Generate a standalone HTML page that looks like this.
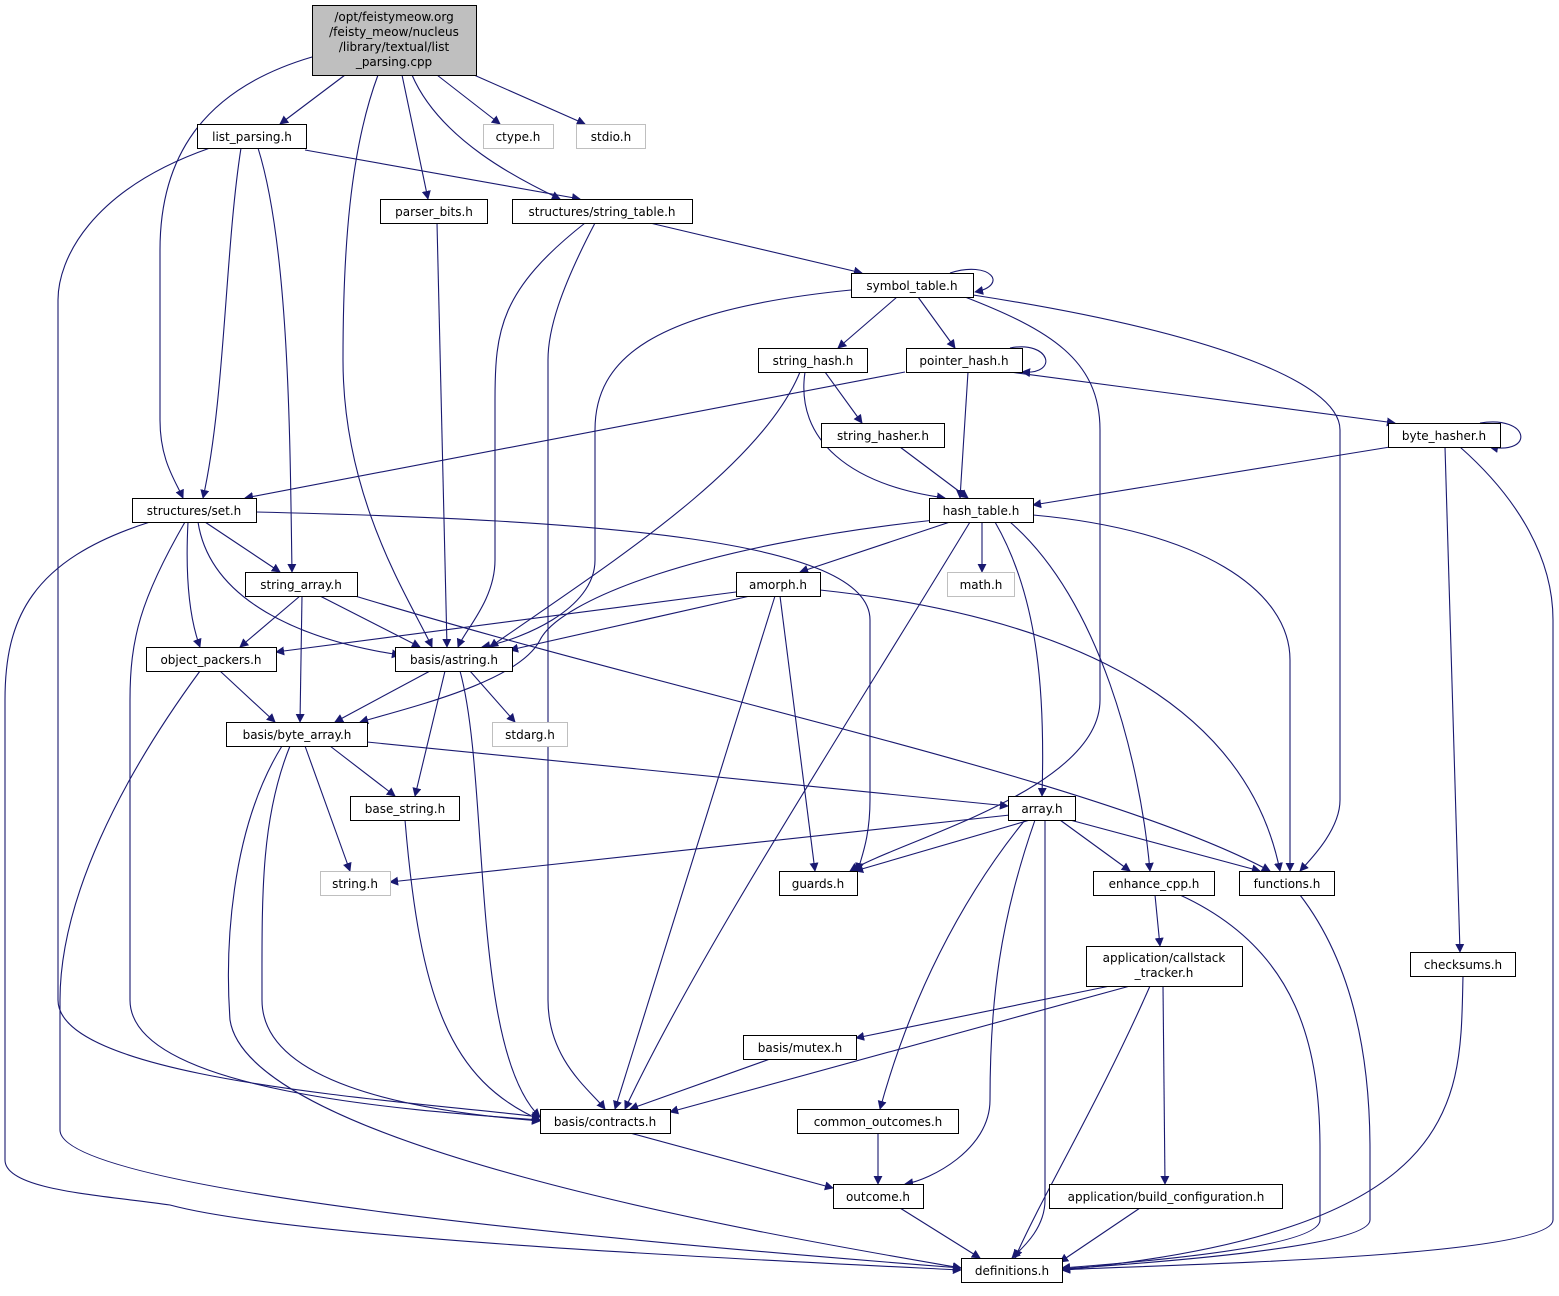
<!DOCTYPE html>
<html><head><meta charset="utf-8"><style>
html,body{margin:0;padding:0;background:#fff}
svg text{font-family:"DejaVu Sans","Liberation Sans",sans-serif;font-size:12px;fill:#000}
</style></head><body>
<svg width="1559" height="1291" viewBox="0 0 1559 1291" xmlns="http://www.w3.org/2000/svg">
<defs><marker id="a" viewBox="0 0 10 10" refX="9" refY="5" markerWidth="9" markerHeight="9" orient="auto" markerUnits="userSpaceOnUse"><path d="M0,0 L10,5 L0,10 z" fill="#191970"/></marker></defs>
<g fill="none" stroke="#191970" stroke-width="1.1" marker-end="url(#a)">
<path d="M345,75 L280,124"/>
<path d="M312,57 C200,90 160,160 160,250 L160,420 C160,460 175,480 183,498"/>
<path d="M378,75 C350,150 343,250 343,360 C343,500 410,600 432,647"/>
<path d="M402,75 L428,199"/>
<path d="M412,75 C440,140 520,180 560,199"/>
<path d="M437,75 L500,124"/>
<path d="M474,75 L585,124"/>
<path d="M305,150 L580,199"/>
<path d="M241,148 C225,250 225,400 203,498"/>
<path d="M258,148 C290,250 290,450 292,572"/>
<path d="M210,148 C90,190 58,260 58,300 L58,1000 C58,1080 400,1100 540,1117"/>
<path d="M437,223 L447,647"/>
<path d="M585,223 C500,290 495,330 495,400 L495,560 C495,600 465,630 458,647"/>
<path d="M595,223 C560,290 548,330 548,360 L548,1000 C548,1060 590,1090 605,1109"/>
<path d="M650,223 L862,273"/>
<path d="M950,273 C990,260 1010,285 975,292"/>
<path d="M897,297 L838,348"/>
<path d="M918,297 L955,348"/>
<path d="M851,290 C650,310 595,360 595,430 L595,560 C595,610 520,640 482,647"/>
<path d="M973,295 C1200,330 1340,380 1340,430 L1340,800 C1340,830 1310,860 1300,871"/>
<path d="M965,297 C1050,330 1100,360 1100,430 L1100,700 C1100,790 900,840 850,871"/>
<path d="M825,372 L862,423"/>
<path d="M805,372 C795,440 850,485 945,498"/>
<path d="M800,372 C760,470 600,570 490,647"/>
<path d="M1010,348 C1050,340 1060,375 1022,372"/>
<path d="M968,372 L960,498"/>
<path d="M905,372 L245,498"/>
<path d="M1010,372 L1395,423"/>
<path d="M900,447 L968,498"/>
<path d="M1480,423 C1530,415 1535,455 1490,447"/>
<path d="M1390,447 L1033,505"/>
<path d="M1445,447 L1460,952"/>
<path d="M1460,447 C1520,500 1553,560 1553,620 L1553,1220 C1553,1260 1100,1266 1062,1270"/>
<path d="M205,522 L280,572"/>
<path d="M188,522 C185,580 190,620 200,647"/>
<path d="M198,522 C210,600 300,640 400,655"/>
<path d="M256,512 C600,520 870,540 870,620 L870,800 C870,840 860,860 858,871"/>
<path d="M185,522 C140,600 130,640 130,700 L130,1000 C130,1090 400,1110 540,1120"/>
<path d="M150,522 C30,560 5,620 5,700 L5,1160 C5,1190 100,1195 170,1205 C300,1240 800,1262 961,1270"/>
<path d="M950,522 L800,572"/>
<path d="M982,522 L982,572"/>
<path d="M995,522 C1040,600 1045,700 1042,796"/>
<path d="M1010,522 C1100,600 1140,760 1150,871"/>
<path d="M1033,515 C1200,530 1290,590 1290,660 L1290,871"/>
<path d="M970,522 C850,720 700,950 625,1109"/>
<path d="M935,520 C700,545 560,600 540,640 C520,680 420,705 360,722"/>
<path d="M300,596 L240,647"/>
<path d="M320,596 L420,647"/>
<path d="M302,596 L300,722"/>
<path d="M355,596 C700,700 1100,780 1270,871"/>
<path d="M736,592 L276,652"/>
<path d="M750,596 L510,650"/>
<path d="M780,596 L815,871"/>
<path d="M775,596 L615,1109"/>
<path d="M820,590 C1100,620 1250,720 1280,871"/>
<path d="M220,671 L275,722"/>
<path d="M200,671 C120,780 60,900 60,1000 L60,1130 C60,1190 600,1240 961,1268"/>
<path d="M430,671 L335,722"/>
<path d="M470,671 L515,722"/>
<path d="M445,671 L415,796"/>
<path d="M460,671 C490,780 470,1050 540,1117"/>
<path d="M330,746 L395,796"/>
<path d="M305,746 L350,871"/>
<path d="M367,742 L1008,806"/>
<path d="M290,746 C260,820 262,900 262,1000 C262,1080 400,1110 540,1121"/>
<path d="M282,746 C230,830 225,950 230,1020 C250,1150 800,1240 961,1268"/>
<path d="M405,820 C420,1000 450,1080 540,1120"/>
<path d="M1010,815 L390,882"/>
<path d="M1030,820 L855,871"/>
<path d="M1060,820 L1130,871"/>
<path d="M1070,820 L1260,871"/>
<path d="M1025,820 C960,900 910,1000 880,1109"/>
<path d="M1035,820 C1000,920 990,1000 990,1100 C990,1150 930,1180 905,1184"/>
<path d="M1045,820 L1045,1200 C1045,1230 1020,1250 1012,1258"/>
<path d="M1155,895 L1160,946"/>
<path d="M1180,895 C1300,950 1320,1050 1320,1150 L1320,1220 C1320,1250 1100,1265 1062,1268"/>
<path d="M1300,895 C1350,960 1370,1050 1370,1150 L1370,1220 C1370,1250 1100,1266 1062,1269"/>
<path d="M1110,986 L856,1038"/>
<path d="M1130,986 L670,1112"/>
<path d="M1163,986 L1165,1184"/>
<path d="M1150,986 C1100,1100 1040,1200 1015,1258"/>
<path d="M1463,976 C1460,1100 1470,1230 1062,1270"/>
<path d="M770,1059 L630,1109"/>
<path d="M878,1133 L878,1184"/>
<path d="M630,1133 L833,1188"/>
<path d="M900,1208 L980,1258"/>
<path d="M1140,1208 L1060,1262"/>
</g>
<g stroke-width="1">
<rect x="312.5" y="5.5" width="164" height="70" fill="#bfbfbf" stroke="#000"/>
<g fill="#fff" stroke="#000">
<rect x="197.5" y="124.5" width="109" height="24"/>
<rect x="380.5" y="199.5" width="107" height="24"/>
<rect x="512.5" y="199.5" width="180" height="24"/>
<rect x="851.5" y="273.5" width="122" height="24"/>
<rect x="758.5" y="348.5" width="109" height="24"/>
<rect x="906.5" y="348.5" width="116" height="24"/>
<rect x="821.5" y="423.5" width="123" height="24"/>
<rect x="1388.5" y="423.5" width="112" height="24"/>
<rect x="132.5" y="498.5" width="124" height="24"/>
<rect x="929.5" y="498.5" width="104" height="24"/>
<rect x="245.5" y="572.5" width="112" height="24"/>
<rect x="736.5" y="572.5" width="84" height="24"/>
<rect x="146.5" y="647.5" width="130" height="24"/>
<rect x="395.5" y="647.5" width="117" height="24"/>
<rect x="226.5" y="722.5" width="141" height="24"/>
<rect x="350.5" y="796.5" width="109" height="24"/>
<rect x="1008.5" y="796.5" width="67" height="24"/>
<rect x="779.5" y="871.5" width="78" height="24"/>
<rect x="1093.5" y="871.5" width="121" height="24"/>
<rect x="1239.5" y="871.5" width="95" height="24"/>
<rect x="1086.5" y="946.5" width="156" height="40"/>
<rect x="1410.5" y="952.5" width="105" height="24"/>
<rect x="743.5" y="1035.5" width="113" height="24"/>
<rect x="797.5" y="1109.5" width="161" height="24"/>
<rect x="540.5" y="1109.5" width="130" height="24"/>
<rect x="833.5" y="1184.5" width="90" height="24"/>
<rect x="1049.5" y="1184.5" width="233" height="24"/>
<rect x="961.5" y="1258.5" width="101" height="24"/>
</g>
<g fill="#fff" stroke="#bfbfbf">
<rect x="483.5" y="124.5" width="70" height="24"/>
<rect x="576.5" y="124.5" width="69" height="24"/>
<rect x="947.5" y="572.5" width="67" height="24"/>
<rect x="492.5" y="722.5" width="75" height="24"/>
<rect x="320.5" y="871.5" width="70" height="24"/>
</g>
</g>
<g text-anchor="middle">
<text x="394" y="21">/opt/feistymeow.org</text>
<text x="394" y="36">/feisty_meow/nucleus</text>
<text x="394" y="51">/library/textual/list</text>
<text x="394" y="66">_parsing.cpp</text>
<text x="252" y="141">list_parsing.h</text>
<text x="518" y="141">ctype.h</text>
<text x="611" y="141">stdio.h</text>
<text x="434" y="216">parser_bits.h</text>
<text x="602" y="216">structures/string_table.h</text>
<text x="912" y="290">symbol_table.h</text>
<text x="813" y="365">string_hash.h</text>
<text x="964" y="365">pointer_hash.h</text>
<text x="883" y="440">string_hasher.h</text>
<text x="1444" y="440">byte_hasher.h</text>
<text x="194" y="515">structures/set.h</text>
<text x="981" y="515">hash_table.h</text>
<text x="301" y="589">string_array.h</text>
<text x="778" y="589">amorph.h</text>
<text x="981" y="589">math.h</text>
<text x="211" y="664">object_packers.h</text>
<text x="454" y="664">basis/astring.h</text>
<text x="297" y="739">basis/byte_array.h</text>
<text x="530" y="739">stdarg.h</text>
<text x="405" y="813">base_string.h</text>
<text x="1042" y="813">array.h</text>
<text x="355" y="888">string.h</text>
<text x="818" y="888">guards.h</text>
<text x="1154" y="888">enhance_cpp.h</text>
<text x="1287" y="888">functions.h</text>
<text x="1164" y="962">application/callstack</text>
<text x="1164" y="977">_tracker.h</text>
<text x="1463" y="969">checksums.h</text>
<text x="800" y="1052">basis/mutex.h</text>
<text x="878" y="1126">common_outcomes.h</text>
<text x="605" y="1126">basis/contracts.h</text>
<text x="878" y="1201">outcome.h</text>
<text x="1166" y="1201">application/build_configuration.h</text>
<text x="1012" y="1275">definitions.h</text>
</g>
</svg>
</body></html>
